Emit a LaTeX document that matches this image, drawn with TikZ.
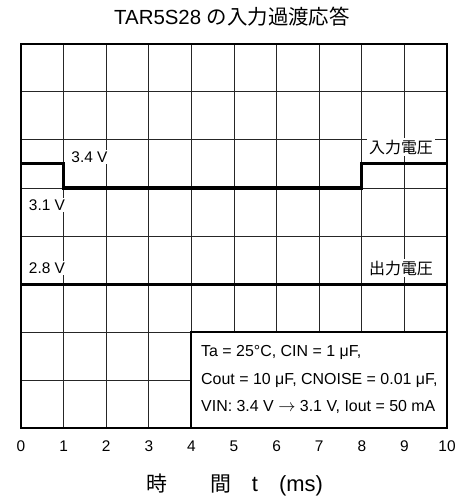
\documentclass[tikz,border=0pt]{standalone}
\usepackage{fontspec}
\setmainfont{Liberation Sans}
\newfontfamily\cjk{Noto Sans CJK JP}
\begin{document}
\begin{tikzpicture}[x=1bp,y=-1bp,
  gridline/.style={line width=1bp,draw=black!85},
  frame/.style={line width=2bp,draw=black},
  signal/.style={line width=3bp,draw=black},
  vlabel/.style={fill=white,inner sep=2bp,font=\fontsize{15.5}{17}\selectfont},
  jlabel/.style={fill=white,inner sep=2bp,font=\cjk\fontsize{16}{18}\selectfont},
  ticklabel/.style={anchor=base,inner sep=0pt,font=\fontsize{15.5}{17}\selectfont},
  legtext/.style={anchor=west,inner sep=0pt,font=\fontsize{16}{18}\selectfont},
  axlabel/.style={anchor=base,inner sep=0pt,font=\fontsize{22}{24}\selectfont},
  axjlabel/.style={anchor=base,inner sep=0pt,font=\cjk\fontsize{21}{24}\selectfont}]
\useasboundingbox (0,0) rectangle (457,498);
% title
\node[inner sep=0pt,font=\fontsize{20.5}{24}\selectfont] (title) at (232,17) {TAR5S28 {\cjk の入力過渡応答}};
% grid
\foreach \i in {1,...,9} \draw[gridline] (21+42.6*\i,44) -- (21+42.6*\i,428);
\foreach \j in {1,...,7} \draw[gridline] (21,44+48*\j) -- (447,44+48*\j);
% signals
\draw[signal] (21,164) -- (63.6,164) -- (63.6,188) -- (361.8,188) -- (361.8,164) -- (447,164);
\draw[signal] (21,284) -- (447,284);
% level labels
\node[vlabel] (l34) at (89.5,157) {3.4 V};
\node[vlabel] (l31) at (47,205) {3.1 V};
\node[vlabel] (l28) at (47,268) {2.8 V};
\node[jlabel] (vin) at (401,147) {入力電圧};
\node[jlabel] (vout) at (401,268) {出力電圧};
% legend box
\draw[frame,fill=white] (191.4,332) rectangle (447,428);
\node[legtext] (leg1) at (201,352) {Ta = 25°C, CIN = 1 μF,};
\node[legtext] (leg2) at (201,380) {Cout = 10 μF, CNOISE = 0.01 μF,};
\node[legtext] (leg3) at (201,407) {VIN: 3.4 V $\rightarrow$ 3.1 V, Iout = 50 mA};
% frame
\draw[frame] (21,44) rectangle (447,428);
% ticks
\foreach \k in {0,...,10} \node[ticklabel] (t\k) at (21+42.6*\k,451) {\k};
% axis label
\node[axjlabel] (ax1) at (157,491) {時};
\node[axjlabel] (ax2) at (221,491) {間};
\node[axlabel] (ax3) at (255,491) {t};
\node[axlabel] (ax4) at (301,491) {(ms)};
\end{tikzpicture}
\end{document}
